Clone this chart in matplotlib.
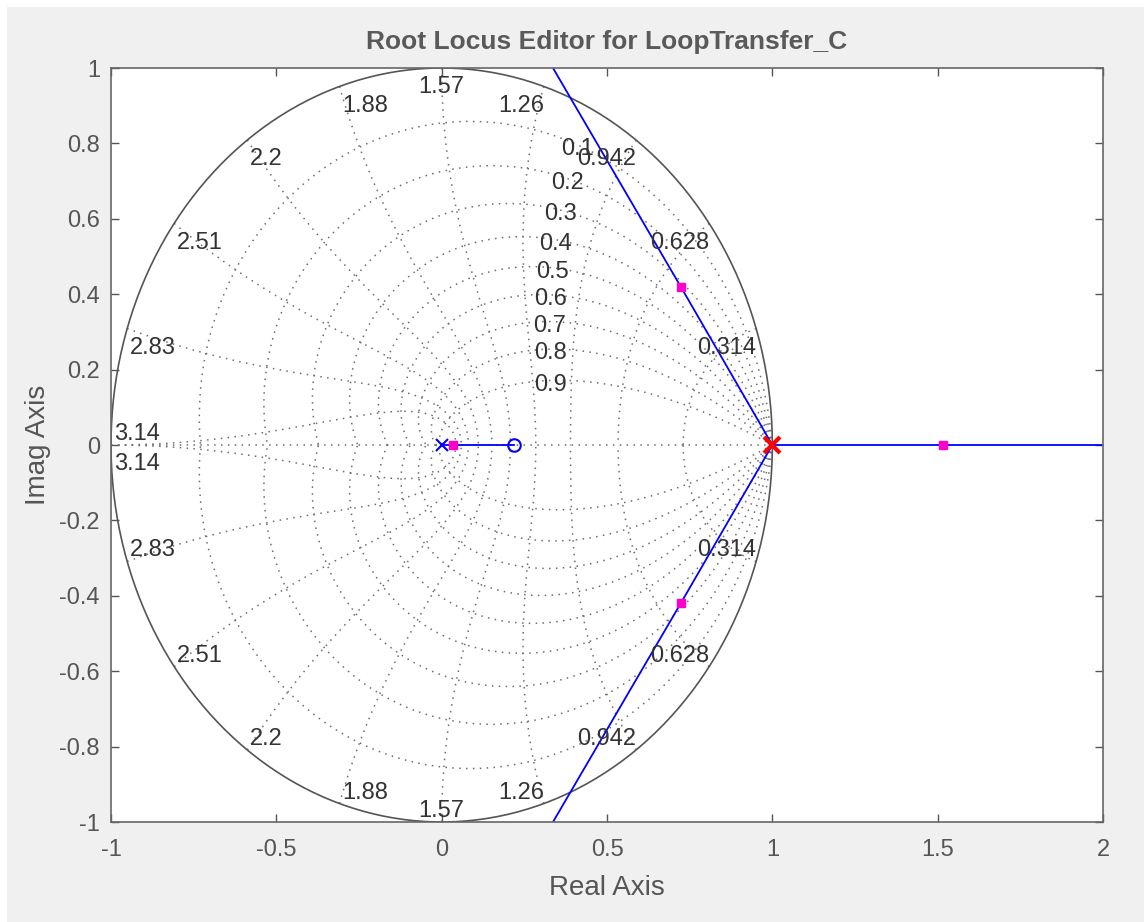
import numpy as np
import matplotlib
matplotlib.use("Agg")
import matplotlib.pyplot as plt
from matplotlib.patches import Rectangle

plt.rcParams['font.family'] = ['Liberation Sans', 'DejaVu Sans']

# zgrid values
zeta_vals = [0.1, 0.2, 0.3, 0.4, 0.5, 0.6, 0.7, 0.8, 0.9]
wn_vals = [0.314, 0.628, 0.942, 1.26, 1.57, 1.88, 2.2, 2.51, 2.83, 3.14]

# root locus branches
br_up_x = [1.0, 0.723, 0.31]
br_up_y = [0.0, 0.42, 1.04]
br_dn_x = [1.0, 0.723, 0.31]
br_dn_y = [0.0, -0.42, -1.04]
br_right_x = [1.0, 2.05]
br_right_y = [0.0, 0.0]
br_left_x = [0.0, 0.22]
br_left_y = [0.0, 0.0]

plant_pole = (0.0, 0.0)
plant_zero = (0.22, 0.0)
comp_pole = (1.0, 0.0)
cl_x = [0.035, 0.723, 0.723, 1.516]
cl_y = [0.0, 0.42, -0.42, 0.0]

fig = plt.figure(figsize=(11.44, 9.22), dpi=100, facecolor='white')
fig.patches.append(Rectangle((7/1144, 0), 1, 1 - 7/922, transform=fig.transFigure,
                             facecolor='#f0f0f0', edgecolor='none', zorder=-10))
ax = fig.add_axes([111/1144, 1 - 822/922, (1103-111)/1144, (822-68)/922])

gcol = '#6e6e6e'
gls = (0, (1, 3.5))
lblc = '#333333'
fs = 17
# damping lines
th = np.linspace(0, np.pi, 200)
for z in zeta_vals:
    m = np.tan(np.arcsin(z))
    zz = np.exp(th * (-m + 1j))
    ax.plot(zz.real, zz.imag, linestyle=gls, color=gcol, lw=1.1)
    ax.plot(zz.real, -zz.imag, linestyle=gls, color=gcol, lw=1.1)
    p = np.exp(1.1 * (-z + 1j*np.sqrt(1 - z**2)))
    ax.annotate(str(z), (p.real, p.imag), xytext=(0, -3), textcoords='offset points',
                ha='center', va='center', fontsize=fs, color=lblc)
ax.plot([-1, 1], [0, 0], linestyle=gls, color=gcol, lw=1.1)

# natural frequency lines
phi = np.linspace(np.pi/2, np.pi, 100)
for w in wn_vals:
    wn = np.pi * round(w / np.pi * 10) / 10
    zn = np.exp(wn * np.exp(1j*phi))
    ax.plot(zn.real, zn.imag, linestyle=gls, color=gcol, lw=1.1)
    ax.plot(zn.real, -zn.imag, linestyle=gls, color=gcol, lw=1.1)
    c, s = np.cos(wn), np.sin(wn)
    ha = 'right' if c > 0.01 else ('left' if c < -0.01 else 'center')
    dx = 2 if ha == 'left' else 0
    if s < 0.01:
        ax.annotate(str(w), (c, s), xytext=(dx, 0), textcoords='offset points',
                    ha=ha, va='bottom', fontsize=fs, color=lblc)
        ax.annotate(str(w), (c, -s), xytext=(dx, -6), textcoords='offset points',
                    ha=ha, va='top', fontsize=fs, color=lblc)
    else:
        ax.annotate(str(w), (c, s), xytext=(dx, -6), textcoords='offset points',
                    ha=ha, va='top', fontsize=fs, color=lblc)
        ax.annotate(str(w), (c, -s), xytext=(dx, 0), textcoords='offset points',
                    ha=ha, va='bottom', fontsize=fs, color=lblc)

# unit circle
t = np.linspace(0, 2*np.pi, 400)
ax.plot(np.cos(t), np.sin(t), '-', color='#555555', lw=1.2)

# locus
for bx, by in [(br_up_x, br_up_y), (br_dn_x, br_dn_y), (br_right_x, br_right_y), (br_left_x, br_left_y)]:
    ax.plot(bx, by, '-', color='#0000ff', lw=1.3)
ax.plot(*plant_pole, 'x', color='#0000ff', ms=8, mew=1.5)
ax.plot(*plant_zero, 'o', color='#0000ff', ms=9, mfc='none', mew=1.5)
ax.plot(cl_x, cl_y, 's', color='#ff00cc', ms=6, mec='#ff00cc')
ax.plot(*comp_pole, 'x', color='#ff0000', ms=12, mew=3, zorder=5)

ax.set_xlim(-1, 2)
ax.set_ylim(-1, 1)
ax.set_xticks([-1, -0.5, 0, 0.5, 1, 1.5, 2])
ax.set_xticklabels(['-1', '-0.5', '0', '0.5', '1', '1.5', '2'])
ax.set_yticks([-1, -0.8, -0.6, -0.4, -0.2, 0, 0.2, 0.4, 0.6, 0.8, 1])
ax.set_yticklabels(['-1', '-0.8', '-0.6', '-0.4', '-0.2', '0', '0.2', '0.4', '0.6', '0.8', '1'])
ax.tick_params(direction='in', length=6, width=1, top=True, right=True,
               labelsize=17, colors='#555555')
ax.tick_params(axis='x', pad=12)
ax.tick_params(axis='y', pad=8)
for sp in ax.spines.values():
    sp.set_color('#666666')
    sp.set_linewidth(1.2)

ax.set_xlabel('Real Axis', fontsize=20, color='#555555', labelpad=10)
ax.set_ylabel('Imag Axis', fontsize=20, color='#555555', labelpad=6)
ax.set_title('Root Locus Editor for LoopTransfer_C', fontsize=19, fontweight='bold',
             color='#5a5a5a', pad=14)

fig.savefig('out.png', dpi=100, facecolor=fig.get_facecolor())
